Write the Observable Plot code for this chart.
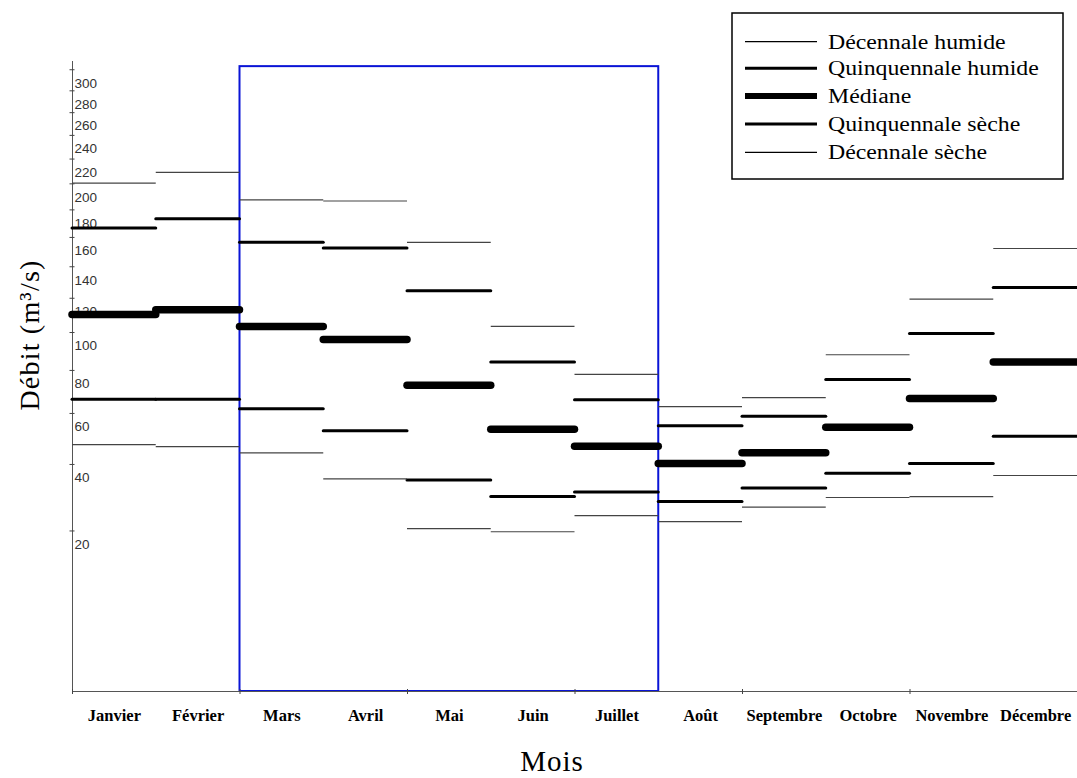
<!DOCTYPE html>
<html><head><meta charset="utf-8">
<script src="https://cdn.jsdelivr.net/npm/d3@7"></script>
<script src="https://cdn.jsdelivr.net/npm/@observablehq/plot@0.6"></script>
<style>
body{margin:0;background:#fff;}
#wrap{position:relative;width:1077px;height:778px;overflow:hidden;}
#wrap > svg{position:absolute;left:0;top:0;}
</style></head><body><div id="wrap"></div>
<script>
// ---- data ----
const months = ["Janvier","Février","Mars","Avril","Mai","Juin","Juillet","Août","Septembre","Octobre","Novembre","Décembre"];
const decennaleHumide    = [200.6,209.1,187.6,186.7,156.5,103.4,78.0,63.0,67.0,88.0,119.5,152.3];
const quinquennaleHumide = [166.7,173.4,156.7,152.6,124.6,84.3,66.0,54.8,58.8,75.5,99.4,126.7];
const mediane            = [110.3,113.1,103.4,96.1,72.8,53.4,46.7,40.3,44.2,54.2,66.6,84.3];
const quinquennaleSeche  = [66.3,66.3,62.0,52.8,34.7,29.5,30.9,28.0,32.1,37.0,40.3,50.6];
const decennaleSeche     = [47.3,46.5,44.2,35.1,20.6,19.8,24.0,22.4,26.4,29.2,29.5,36.2];
const seriesNames = ["Décennale humide","Quinquennale humide","Médiane","Quinquennale sèche","Décennale sèche"];
const yTicks = [20,40,60,80,100,120,140,160,180,200,220,240,260,280,300];
const highlightFrom = "Mars", highlightTo = "Juillet";
const yMax = 308, highlightTop = 303;
const xTitle = "Mois", yTitle = "Débit (m³/s)";

// ---- styles ----
const seriesValues = [decennaleHumide, quinquennaleHumide, mediane, quinquennaleSeche, decennaleSeche];
const widths = [1.2, 3, 7.5, 3, 1.2];
const colors = ["#444", "#000", "#000", "#000", "#444"];
const caps = ["butt", "round", "round", "round", "butt"];

const rows = [];
seriesValues.forEach((vals, s) => vals.forEach((v, i) => rows.push({series: seriesNames[s], s, i, value: v})));

const lineMarks = seriesNames.map((name, s) =>
  Plot.ruleY(rows.filter(d => d.s === s), {
    y: "value", x1: d => d.i, x2: d => d.i + 1,
    stroke: colors[s], strokeWidth: widths[s], strokeLinecap: caps[s]
  })
);

const chart = Plot.plot({
  width: 1077, height: 778,
  marginLeft: 72, marginRight: 0, marginTop: 61, marginBottom: 87,
  style: {fontFamily: "Liberation Sans", fontSize: "13px", background: "white", overflow: "visible"},
  x: {domain: [0, 12]},
  y: {type: "sqrt", domain: [0, yMax]},
  marks: [
    Plot.rect([{a: highlightFrom, b: highlightTo}], {
      x1: d => months.indexOf(d.a), x2: d => months.indexOf(d.b) + 1,
      y1: () => 0, y2: () => highlightTop,
      fill: "none", stroke: "#0a14d6", strokeWidth: 2
    }),
    Plot.ruleX([0], {stroke: "#555"}),
    Plot.ruleY([0], {stroke: "#555"}),
    Plot.axisY(yTicks, {anchor: "left", tickSize: 5, fill: "none", stroke: "#444", dx: 2.5, label: null}),
    Plot.axisY(yTicks, {anchor: "left", tickSize: 0, tickPadding: -2, textAnchor: "start", dy: 13.5,
      fontSize: 13.5, fontFamily: "Liberation Sans", fill: "#333", label: null}),
    Plot.axisX(d3.range(0, 13, 2), {anchor: "bottom", tickSize: 5, dy: -2, fill: "none", stroke: "#444", label: null}),
    Plot.axisX(months.map((m, i) => i + 0.5), {anchor: "bottom", tickSize: 0, tickPadding: 18,
      tickFormat: d => months[Math.floor(d)], fontSize: 16.5, fontWeight: "bold",
      fontFamily: "Liberation Serif", fill: "#000", label: null}),
    ...lineMarks
  ]
});
const wrap = document.getElementById("wrap");
wrap.appendChild(chart);

// ---- overlay: legend and axis titles ----
const NS = "http://www.w3.org/2000/svg";
const ov = document.createElementNS(NS, "svg");
ov.setAttribute("width", 1077); ov.setAttribute("height", 778);
ov.style.pointerEvents = "none";
function el(tag, attrs, text) {
  const e = document.createElementNS(NS, tag);
  for (const k in attrs) e.setAttribute(k, attrs[k]);
  if (text != null) e.textContent = text;
  ov.appendChild(e);
  return e;
}
el("rect", {x: 732, y: 13, width: 331, height: 166, fill: "white", stroke: "#000", "stroke-width": 1.5});
const rowY = [41.7, 68.3, 96, 124, 152.3];
const legW = [1.2, 3, 6, 3, 1.2];
seriesNames.forEach((name, s) => {
  el("line", {x1: 745, x2: 817, y1: rowY[s], y2: rowY[s], stroke: "#000", "stroke-width": legW[s]});
  el("text", {transform: `translate(828,${rowY[s] + 7}) scale(1.19,1)`, "font-family": "Liberation Serif",
    "font-size": 20, fill: "#000"}, name);
});
el("text", {transform: "translate(39,335) rotate(-90)", "text-anchor": "middle", "font-family": "Liberation Serif",
  "font-size": 28, "letter-spacing": 1.2, fill: "#000"}, yTitle);
el("text", {x: 552, y: 771, "text-anchor": "middle", "font-family": "Liberation Serif",
  "font-size": 29, "letter-spacing": 1, fill: "#000"}, xTitle);
wrap.appendChild(ov);
</script>
</body></html>
